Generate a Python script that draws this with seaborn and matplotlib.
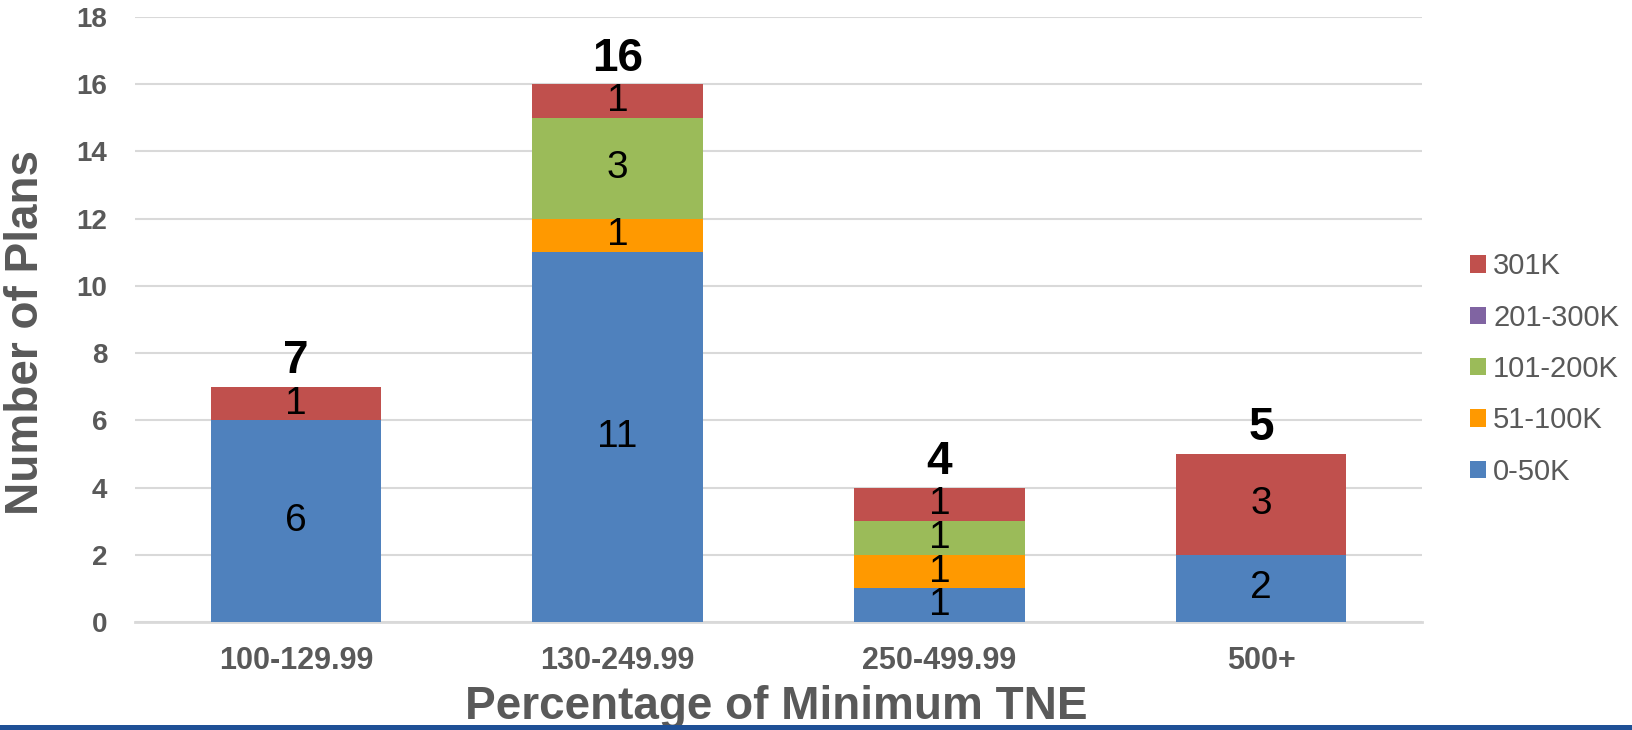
import numpy as np
import pandas as pd
import matplotlib
matplotlib.use("Agg")
import matplotlib.pyplot as plt
import seaborn as sns
from matplotlib.patches import Patch, Rectangle

# Data
categories = ["100-129.99", "130-249.99", "250-499.99", "500+"]
tiers = ["301K", "201-300K", "101-200K", "51-100K", "0-50K"]  # legend order (top to bottom)
plans_0_50k = [6, 11, 1, 2]
plans_51_100k = [0, 1, 1, 0]
plans_101_200k = [0, 3, 1, 0]
plans_201_300k = [0, 0, 0, 0]
plans_301k = [1, 1, 1, 3]

tier_colors = {
    "0-50K": "#4F81BD",
    "51-100K": "#FF9900",
    "101-200K": "#9BBB59",
    "201-300K": "#8064A2",
    "301K": "#C0504D",
}

# Long format table for seaborn
stack_bottom_up = [
    ("0-50K", plans_0_50k),
    ("51-100K", plans_51_100k),
    ("101-200K", plans_101_200k),
    ("201-300K", plans_201_300k),
    ("301K", plans_301k),
]
rows = []
for tier, vals in stack_bottom_up:
    for cat, v in zip(categories, vals):
        rows.append({"range": cat, "tier": tier, "count": v})
df = pd.DataFrame(rows)
df["range"] = pd.Categorical(df["range"], categories=categories, ordered=True)

gray = "#595959"
sns.set_style("white")
plt.rcParams["font.family"] = ["Liberation Sans", "DejaVu Sans"]

fig = plt.figure(figsize=(16.33, 7.30), dpi=100)
ax = fig.add_axes([0.0827, 0.1479, 0.7881, 0.8288])

# Stacked bars: last hue level ends up at the bottom of the stack
sns.histplot(data=df, x="range", hue="tier", weights="count",
             hue_order=tiers, palette=tier_colors, multiple="stack",
             discrete=True, shrink=0.53, linewidth=0, alpha=1,
             legend=False, ax=ax, zorder=3)

# Segment labels (centered) and total labels (bold, above)
bottom = np.zeros(len(categories))
for tier, vals in stack_bottom_up:
    vals = np.array(vals, dtype=float)
    for i, v in enumerate(vals):
        if v > 0:
            ax.text(i, bottom[i] + v / 2, f"{int(v)}", ha="center", va="center",
                    fontsize=28, color="black", zorder=5)
    bottom += vals
for i, tot in enumerate(bottom):
    ax.annotate(f"{int(tot)}", (i, tot), xytext=(0, 2.5), textcoords="offset points",
                ha="center", va="bottom", fontsize=33, fontweight="bold", color="black")

ax.set_ylim(0, 18)
ax.set_xlim(-0.5, len(categories) - 0.5)
ax.set_yticks(range(0, 19, 2))
ax.set_xticks(range(len(categories)))
ax.set_xticklabels(categories)
ax.yaxis.grid(True, color="#D9D9D9", linewidth=1.5, zorder=0)
ax.set_axisbelow(True)
for side in ["top", "right", "left"]:
    ax.spines[side].set_visible(False)
ax.spines["bottom"].set_color("#D9D9D9")
ax.spines["bottom"].set_linewidth(2)
ax.tick_params(axis="both", length=0, colors=gray)
ax.tick_params(axis="y", labelsize=20, pad=20)
ax.tick_params(axis="x", labelsize=22, pad=17.5)
for lab in ax.get_xticklabels() + ax.get_yticklabels():
    lab.set_fontweight("bold")

ax.set_xlabel("Percentage of Minimum TNE", fontsize=33, fontweight="bold",
              color=gray, va="baseline")
ax.xaxis.set_label_coords(0.498, -0.160)
ax.set_ylabel("Number of Plans", fontsize=33, fontweight="bold",
              color=gray, va="center")
ax.yaxis.set_label_coords(-0.085, 0.478)

handles = [Patch(facecolor=tier_colors[t], edgecolor="none") for t in tiers]
fig.legend(handles, tiers, loc="center left", bbox_to_anchor=(0.9, 0.4945),
           frameon=False, fontsize=21, labelcolor=gray,
           handlelength=0.55, handleheight=0.55, handletextpad=0.25,
           labelspacing=0.8, borderpad=0, borderaxespad=0)

# Blue strip along the bottom edge
fig.patches.append(Rectangle((0, 0), 1, 5 / 730, transform=fig.transFigure,
                             facecolor="#1F5096", edgecolor="none", zorder=10))

fig.savefig("out.png", dpi=100)
